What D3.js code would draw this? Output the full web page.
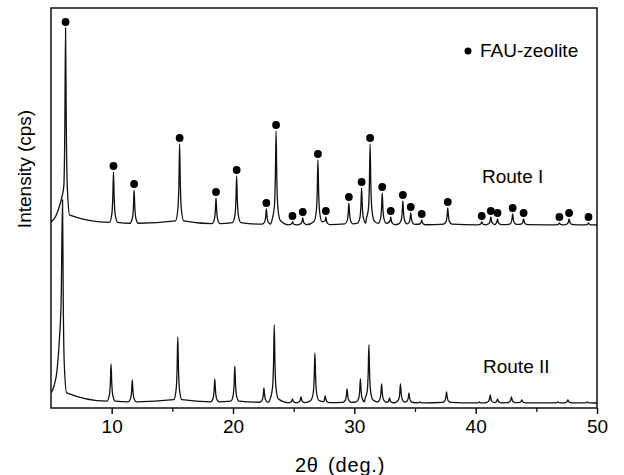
<!DOCTYPE html>
<html>
<head>
<meta charset="utf-8">
<script src="https://cdn.jsdelivr.net/npm/d3@7"></script>
<style>
  body { margin: 0; background: #fff; }
  svg { display: block; font-family: "Liberation Sans", Arial, Helvetica, sans-serif; }
  .trace { fill: none; stroke: #111; stroke-width: 1.3; }
</style>
</head>
<body>
<svg width="624" height="475"></svg>
<script>
// peak positions (2-theta, deg) and heights above baseline (cps)
var route1Pos = [6.2, 10.15, 11.85, 15.6, 18.6, 20.3, 22.75, 23.55, 24.9, 25.75, 27.0, 27.65, 29.55, 30.6, 31.3,
                 32.3, 33.0, 34.0, 34.65, 35.55, 37.7, 40.5, 41.25, 41.8, 43.05, 43.95, 46.9, 47.7, 49.3];
var route1Int = [1970, 530, 350, 810, 270, 490, 160, 940, 30, 70, 650, 80, 220, 370, 810,
                 320, 80, 240, 120, 50, 170, 30, 80, 60, 110, 60, 20, 60, 20];

var route2Pos = [5.95, 9.95, 11.7, 15.45, 18.5, 20.15, 22.55, 23.4, 24.9, 25.6, 26.75, 27.6, 29.4, 30.5, 31.2,
                 32.25, 32.9, 33.8, 34.5, 35.4, 37.6, 40.3, 41.2, 41.8, 42.95, 43.8, 46.8, 47.6, 49.2];
var route2Int = [2030, 390, 230, 660, 240, 370, 150, 780, 40, 60, 500, 70, 140, 240, 580,
                 190, 50, 190, 100, 10, 110, 10, 80, 40, 60, 30, 10, 30, 10];

// low-angle rise before the first reflection
var route1Lead = [[5.0, 80], [5.4, 140], [5.75, 260], [5.9, 330]];
var route2Lead = [[5.0, 150], [5.25, 220], [5.5, 380], [5.7, 700], [5.84, 1100]];

var baseline = 50;
var route1Offset = 1780; // Route I stacked above Route II

var labels = ["Route I", "Route II"];
var legendText = "FAU-zeolite";
var xTicks = [10, 20, 30, 40, 50];
var xMinor = [15, 25, 35, 45];

var margin = {top: 8, right: 27, bottom: 67, left: 51},
    width = 624 - margin.left - margin.right,
    height = 475 - margin.top - margin.bottom;

var svg = d3.select("svg").append("g")
    .attr("transform", "translate(" + margin.left + "," + margin.top + ")");

var xScale = d3.scaleLinear().domain([5, 50]).range([0, width]);
var yScale = d3.scaleLinear().domain([0, 4000]).range([height, 0]);

// shape of one reflection: offsets (deg) and fraction of peak height
var profile = [[-0.34, 0.05], [-0.14, 0.2], [-0.06, 0.5], [0, 1], [0.06, 0.5], [0.14, 0.2], [0.34, 0.05]];

function buildTrace(lead, pos, inten, offset) {
  var pts = lead.map(function(d) { return [d[0], d[1] + offset]; });
  for (var i = 0; i < pos.length; i++) {
    profile.forEach(function(p) {
      var px = pos[i] + p[0],
          py = baseline + inten[i] * p[1] + offset,
          last = pts[pts.length - 1];
      if (px <= last[0]) return;
      // left flank point sitting under a steeper rise just before it
      if (p[0] < 0 && py <= last[1] && px - last[0] < 0.25) return;
      pts.push([px, py]);
    });
  }
  pts.push([50, baseline + offset]);
  return pts;
}

var line = d3.line()
    .x(function(d) { return xScale(d[0]); })
    .y(function(d) { return yScale(d[1]); })
    .curve(d3.curveMonotoneX);

svg.append("clipPath").attr("id", "clip")
  .append("rect").attr("width", width).attr("height", height);

svg.append("path")
  .datum(buildTrace(route2Lead, route2Pos, route2Int, 0))
  .attr("class", "trace")
  .attr("clip-path", "url(#clip)")
  .attr("d", line);

svg.append("path")
  .datum(buildTrace(route1Lead, route1Pos, route1Int, route1Offset))
  .attr("class", "trace")
  .attr("clip-path", "url(#clip)")
  .attr("d", line);

// FAU markers above each Route I reflection
svg.selectAll(".dot")
  .data(route1Pos)
  .enter().append("circle")
  .attr("class", "dot")
  .attr("cx", function(d) { return xScale(d); })
  .attr("cy", function(d, i) { return yScale(baseline + route1Int[i] + route1Offset) - 6; })
  .attr("r", 3.9)
  .attr("fill", "#000");

// frame
svg.append("rect")
  .attr("width", width).attr("height", height)
  .attr("fill", "none").attr("stroke", "#000").attr("stroke-width", 1.4);

var xAxis = svg.append("g")
  .attr("transform", "translate(0," + height + ")")
  .call(d3.axisBottom(xScale).tickValues(xTicks).tickSize(6).tickPadding(6).tickFormat(d3.format("d")));
xAxis.select(".domain").remove();
xAxis.selectAll("line").attr("stroke-width", 1.4);
xAxis.selectAll("text").attr("font-size", 19).attr("font-family", "Liberation Sans, Arial, sans-serif").attr("fill", "#000");

var minor = svg.append("g")
  .attr("transform", "translate(0," + height + ")")
  .call(d3.axisBottom(xScale).tickValues(xMinor).tickSize(4).tickFormat(""));
minor.select(".domain").remove();
minor.selectAll("line").attr("stroke-width", 1.2);

// axis titles
svg.append("text")
  .attr("x", 289).attr("y", 464)
  .attr("text-anchor", "middle")
  .attr("font-size", 20)
  .attr("letter-spacing", 0.8)
  .attr("word-spacing", 3)
  .text("2\u03b8 (deg.)");

svg.append("text")
  .attr("transform", "translate(-20,161) rotate(-90)")
  .attr("text-anchor", "middle")
  .attr("font-size", 19)
  .text("Intensity (cps)");

// legend and route labels
svg.append("circle").attr("cx", 417).attr("cy", 43).attr("r", 3.5).attr("fill", "#000");
svg.append("text").attr("x", 429).attr("y", 49).attr("font-size", 19).text(legendText);

svg.append("text").attr("x", 431).attr("y", 175).attr("font-size", 19).text(labels[0]);
svg.append("text").attr("x", 432).attr("y", 365).attr("font-size", 19).text(labels[1]);
</script>
</body>
</html>
